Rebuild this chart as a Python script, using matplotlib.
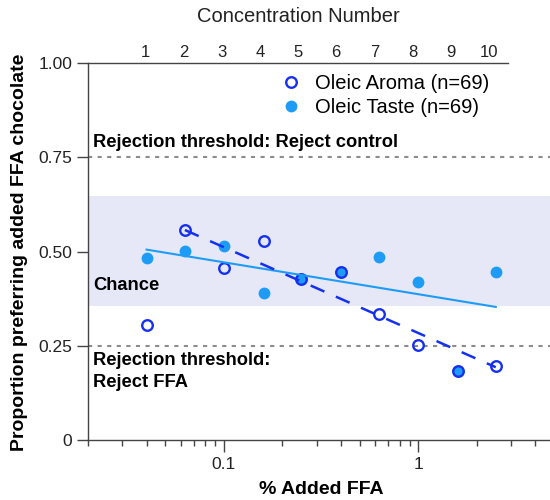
import numpy as np
import matplotlib
matplotlib.use("Agg")
import matplotlib.pyplot as plt
from matplotlib.ticker import FixedLocator, LogLocator, NullFormatter

plt.rcParams['font.family'] = ['Liberation Sans', 'DejaVu Sans']

# Data
conc = [0.04, 0.063, 0.1, 0.16, 0.25, 0.4, 0.63, 1.0, 1.6, 2.5]   # % added FFA
conc_num = [1, 2, 3, 4, 5, 6, 7, 8, 9, 10]
aroma = [0.304, 0.557, 0.455, 0.528, 0.426, 0.446, 0.334, 0.251, 0.183, 0.196]
taste = [0.484, 0.502, 0.515, 0.390, 0.426, 0.446, 0.485, 0.418, 0.183, 0.445]

# trend lines (end points)
taste_trend_x = [0.04, 2.5]
taste_trend_y = [0.505, 0.353]
aroma_trend_x = [0.063, 2.5]
aroma_trend_y = [0.557, 0.193]

chance_band = (0.355, 0.647)
thresholds = [0.75, 0.25]

blue = '#1530f0'
azure = '#1e9cf5'
axcol = '#444444'

fig = plt.figure(figsize=(5.5, 5), dpi=100)
ax = fig.add_axes([0.16, 0.12, 0.84, 0.754])

# chance band and thresholds
ax.axhspan(chance_band[0], chance_band[1], color='#e6e8f8', zorder=0, lw=0)
for t in thresholds:
    ax.axhline(t, color='#8c8c8c', lw=1.5, linestyle=(0, (2, 2.6)), zorder=1)

# points
ax.plot(conc, taste, 'o', ms=7.5, color=azure, mec=azure, zorder=3,
        label='Oleic Taste (n=69)')
ax.plot(conc, aroma, 'o', ms=7.6, mfc='none', mec=blue, mew=1.7, zorder=4,
        label='Oleic Aroma (n=69)')

# trend lines
ax.plot(taste_trend_x, taste_trend_y, color=azure, lw=1.5, zorder=5)
ax.plot(aroma_trend_x, aroma_trend_y, color=blue, lw=1.8,
        linestyle=(0, (6, 5)), zorder=5)

ax.set_xscale('log')
ax.set_xlim(0.02, 4.75)
ax.set_ylim(0, 1.0)
ax.set_yticks([0, 0.25, 0.5, 0.75, 1.0])
ax.set_yticklabels(['0', '0.25', '0.50', '0.75', '1.00'])
ax.xaxis.set_major_locator(FixedLocator([0.1, 1]))
ax.set_xticklabels(['0.1', '1'])
ax.xaxis.set_minor_locator(LogLocator(base=10, subs=np.arange(2, 10)))
ax.xaxis.set_minor_formatter(NullFormatter())

for s in ['top', 'right']:
    ax.spines[s].set_visible(False)
for s in ['left', 'bottom']:
    ax.spines[s].set_color(axcol)
    ax.spines[s].set_linewidth(1.0)
ax.tick_params(axis='y', direction='out', length=8, width=1, color=axcol,
               pad=3.5, labelsize=12.5, labelcolor='#222222')
ax.tick_params(axis='x', which='major', direction='out', length=8.5, width=1,
               color=axcol, pad=4, labelsize=12.5, labelcolor='#222222')
ax.tick_params(axis='x', which='minor', direction='out', length=4.3, width=1,
               color=axcol)

# annotations
tr = ax.get_yaxis_transform()
tx = 5 / 462
ax.text(tx, 0.7766, 'Rejection threshold: Reject control', transform=tr,
        fontsize=13.2, fontweight='bold', va='baseline', ha='left')
ax.text(tx, 0.399, 'Chance', transform=tr,
        fontsize=13.2, fontweight='bold', va='baseline', ha='left')
ax.text(tx, 0.199, 'Rejection threshold:', transform=tr,
        fontsize=13.2, fontweight='bold', va='baseline', ha='left')
ax.text(tx, 0.141, 'Reject FFA', transform=tr,
        fontsize=13.2, fontweight='bold', va='baseline', ha='left')

# legend (aroma first)
h, l = ax.get_legend_handles_labels()
leg = ax.legend(h[::-1], l[::-1], loc='upper left',
                bbox_to_anchor=(281 / 550, 1 - 74 / 500),
                bbox_transform=fig.transFigure, frameon=False, fontsize=14.5,
                handlelength=1.0, handletextpad=0.68, labelspacing=0.25,
                borderpad=0, borderaxespad=0, numpoints=1)

# top axis: concentration number
ax_top = fig.add_axes([0.16, 0.12, 420 / 550, 0.754])
ax_top.patch.set_visible(False)
for s in ['bottom', 'left', 'right']:
    ax_top.spines[s].set_visible(False)
ax_top.spines['top'].set_color(axcol)
ax_top.spines['top'].set_linewidth(1.0)
ax_top.set_xlim(-0.5, 10.5)
ax_top.set_ylim(0, 1)
ax_top.set_yticks([])
ax_top.xaxis.tick_top()
ax_top.set_xticks(conc_num)
ax_top.tick_params(axis='x', length=0, pad=2.5, labelsize=12, labelcolor='#222222')

fig.text(298.5 / 550, 1 - 17 / 500, 'Concentration Number', fontsize=14.5,
         ha='center', va='center', color='#222222')
fig.text(20 / 550, 1 - 252 / 500, 'Proportion preferring added FFA chocolate',
         fontsize=14, fontweight='bold', rotation=90, ha='center', va='center')
fig.text(321 / 550, 1 - 489 / 500, '% Added FFA', fontsize=14,
         fontweight='bold', ha='center', va='center')

fig.savefig('out.png', dpi=100)
